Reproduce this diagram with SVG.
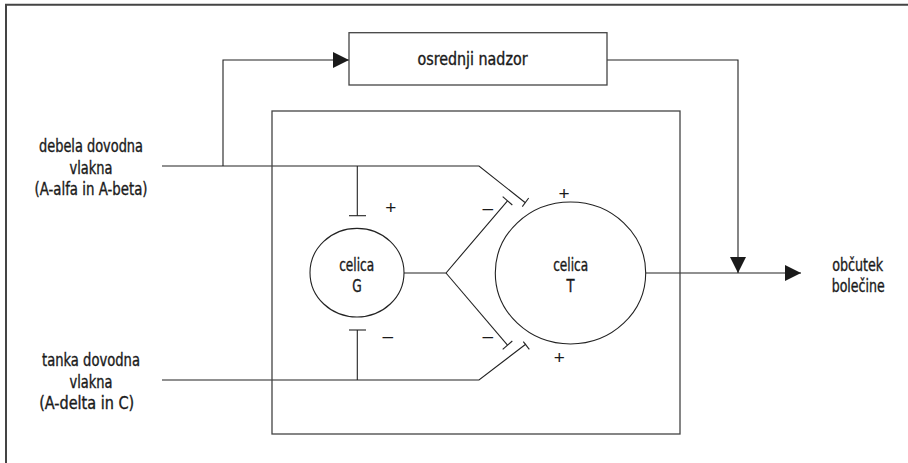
<svg xmlns="http://www.w3.org/2000/svg" width="908" height="463" viewBox="0 0 908 463">
  <style>
    .ln { fill: none; stroke: #222; stroke-width: 1.1; }
    .box { fill: none; stroke: #444; stroke-width: 1.3; }
    .cell { fill: #fff; stroke: #222; stroke-width: 1.1; }
    .lbl { font-family: "DejaVu Sans Condensed", "Liberation Sans Narrow", sans-serif; font-size: 17px; fill: #1a1a1a; stroke: #1a1a1a; stroke-width: 0.35; text-anchor: middle; }
    .sign { font-family: "Liberation Sans", sans-serif; font-size: 19px; fill: #1a1a1a; text-anchor: middle; }
  </style>
  <defs>
    <marker id="arrow" markerWidth="16" markerHeight="16" viewBox="0 0 16 16" refX="16" refY="8" orient="auto" markerUnits="userSpaceOnUse">
      <path d="M0,0 L16,8 L0,16 Z" fill="#1a1a1a"/>
    </marker>
  </defs>

  <rect width="908" height="463" fill="#fff"/>

  <!-- outer frame (left and top edges) -->
  <path d="M6,463 V4.8 H908" fill="none" stroke="#444" stroke-width="2"/>

  <!-- connectors -->
  <g id="connectors">
    <!-- thick fibres input -->
    <path class="ln" d="M162,166 H479 L525,202.5"/>
    <line class="ln" x1="522.3" y1="206.7" x2="528.7" y2="198"/>
    <!-- branch up to central control -->
    <path class="ln" d="M223,166 V60 H349" marker-end="url(#arrow)"/>
    <!-- thin fibres input -->
    <path class="ln" d="M162,380 H479 L526,344"/>
    <line class="ln" x1="523.3" y1="341.7" x2="529.3" y2="349.3"/>
    <!-- thick fibres to G cell (+) -->
    <line class="ln" x1="357.3" y1="166" x2="357.3" y2="215.7"/>
    <line class="ln" x1="349" y1="215.7" x2="366" y2="215.7"/>
    <!-- thin fibres to G cell (-) -->
    <line class="ln" x1="357.3" y1="380" x2="357.3" y2="330"/>
    <line class="ln" x1="349" y1="330" x2="366" y2="330"/>
    <!-- G cell output fork -->
    <path class="ln" d="M404,273 H446 L507.5,200.8"/>
    <line class="ln" x1="502.7" y1="196.7" x2="512.3" y2="205"/>
    <path class="ln" d="M446,273 L507.5,345.2"/>
    <line class="ln" x1="502.7" y1="349.3" x2="512.3" y2="341"/>
    <!-- central control down to output -->
    <path class="ln" d="M607,60 H738 V273" marker-end="url(#arrow)"/>
    <!-- T cell output -->
    <line class="ln" x1="645.7" y1="273" x2="801" y2="273" marker-end="url(#arrow)"/>
  </g>

  <g id="gate">
    <rect class="box" x="272" y="111" width="408" height="323"/>
  </g>

  <g id="central-control">
    <rect class="box" x="349" y="32.7" width="258" height="52.3"/>
    <text class="lbl" x="472.5" y="65" textLength="110" lengthAdjust="spacingAndGlyphs">osrednji nadzor</text>
  </g>

  <g id="cell-g">
    <ellipse class="cell" cx="357" cy="272.7" rx="47" ry="44.3"/>
    <text class="lbl" x="356.7" y="271" textLength="35" lengthAdjust="spacingAndGlyphs">celica</text>
    <text class="lbl" x="357" y="292" textLength="9.5" lengthAdjust="spacingAndGlyphs">G</text>
  </g>

  <g id="cell-t">
    <ellipse class="cell" cx="570.5" cy="273" rx="75.2" ry="71"/>
    <text class="lbl" x="570.7" y="271" textLength="35" lengthAdjust="spacingAndGlyphs">celica</text>
    <text class="lbl" x="570.5" y="292" textLength="8" lengthAdjust="spacingAndGlyphs">T</text>
  </g>

  <g id="input-thick">
    <text class="lbl" x="91" y="152" textLength="104" lengthAdjust="spacingAndGlyphs">debela dovodna</text>
    <text class="lbl" x="91" y="174" textLength="43" lengthAdjust="spacingAndGlyphs">vlakna</text>
    <text class="lbl" x="91" y="195" textLength="113" lengthAdjust="spacingAndGlyphs">(A-alfa in A-beta)</text>
  </g>

  <g id="input-thin">
    <text class="lbl" x="91" y="366" textLength="98" lengthAdjust="spacingAndGlyphs">tanka dovodna</text>
    <text class="lbl" x="91" y="388" textLength="43" lengthAdjust="spacingAndGlyphs">vlakna</text>
    <text class="lbl" x="86.7" y="409" textLength="95" lengthAdjust="spacingAndGlyphs">(A-delta in C)</text>
  </g>

  <g id="output">
    <text class="lbl" x="857.7" y="271" textLength="51" lengthAdjust="spacingAndGlyphs">občutek</text>
    <text class="lbl" x="858.2" y="292" textLength="53" lengthAdjust="spacingAndGlyphs">bolečine</text>
  </g>

  <!-- excitatory / inhibitory signs -->
  <g id="signs">
    <text class="sign" x="390.7" y="213.5">+</text>
    <text class="sign" x="387.7" y="341.5">–</text>
    <text class="sign" x="487.7" y="213.5">–</text>
    <text class="sign" x="487.7" y="341.5">–</text>
    <text class="sign" x="564" y="199.5">+</text>
    <text class="sign" x="559.3" y="364">+</text>
  </g>
</svg>
